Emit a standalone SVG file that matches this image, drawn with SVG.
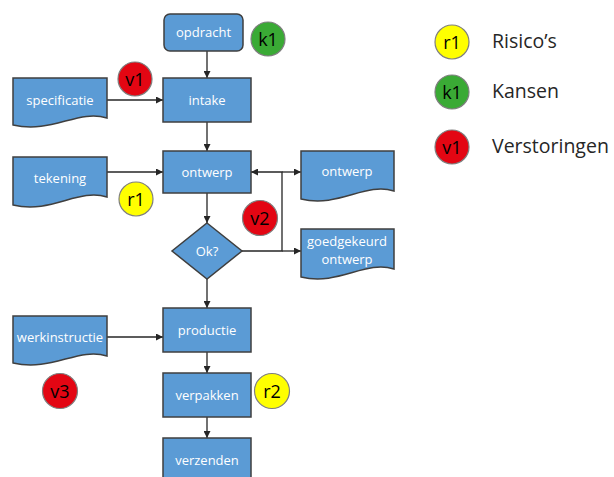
<svg xmlns="http://www.w3.org/2000/svg" width="614" height="477" viewBox="0 0 614 477">
<defs>
<style>
.box{fill:#5b9bd5;stroke:#3f3f3f;stroke-width:1.5}
.lbl{font-family:"Open Sans","Liberation Sans",sans-serif;font-size:13px;fill:#ffffff;text-anchor:middle;dominant-baseline:central}
.con{stroke:#262626;stroke-width:1.3;fill:none}
.cy{fill:#ffff00;stroke:#7f7f7f;stroke-width:1.2}
.cg{fill:#3aaa35;stroke:#7f7f7f;stroke-width:1.2}
.cr{fill:#e30613;stroke:#7f7f7f;stroke-width:1.2}
.ct{font-family:"Open Sans","Liberation Sans",sans-serif;font-size:18px;fill:#000;text-anchor:middle;dominant-baseline:central}
.lt{font-family:"Open Sans","Liberation Sans",sans-serif;font-size:19.5px;fill:#262626;dominant-baseline:central}
</style>
<marker id="ah" viewBox="0 0 10 10" refX="10" refY="5" markerWidth="7" markerHeight="7" orient="auto" markerUnits="userSpaceOnUse">
<path d="M0,0 L10,5 L0,10 Z" fill="#262626"/>
</marker>
</defs>
<rect width="614" height="477" fill="#ffffff"/>

<g id="connectors">
<path class="con" d="M207,51 V78" marker-end="url(#ah)"/>
<path class="con" d="M107,100 H163" marker-end="url(#ah)"/>
<path class="con" d="M207,122 V151" marker-end="url(#ah)"/>
<path class="con" d="M107,172 H163" marker-end="url(#ah)"/>
<path class="con" d="M207,193 V223" marker-end="url(#ah)"/>
<path class="con" d="M242,251 H282 V172 H251" marker-end="url(#ah)"/>
<path class="con" d="M282,172 H301" marker-end="url(#ah)"/>
<path class="con" d="M282,251 H301" marker-end="url(#ah)"/>
<path class="con" d="M207,279 V308" marker-end="url(#ah)"/>
<path class="con" d="M107,337 H163" marker-end="url(#ah)"/>
<path class="con" d="M207,352 V373" marker-end="url(#ah)"/>
<path class="con" d="M207,417 V438" marker-end="url(#ah)"/>
</g>

<g id="opdracht">
<rect class="box" x="164" y="14" width="79" height="37" rx="6"/>
<text class="lbl" x="203.5" y="32">opdracht</text>
</g>
<g id="intake">
<rect class="box" x="163" y="78" width="88" height="44"/>
<text class="lbl" x="207" y="100">intake</text>
</g>
<g id="specificatie">
<path class="box" d="M13,78 H107 V118 C78,109 52,134 13,125 Z"/>
<text class="lbl" x="60" y="100">specificatie</text>
</g>
<g id="ontwerp">
<rect class="box" x="163" y="151" width="88" height="42"/>
<text class="lbl" x="207" y="172">ontwerp</text>
</g>
<g id="tekening">
<path class="box" d="M13,157 H107 V197 C78,188 52,214 13,205 Z"/>
<text class="lbl" x="60" y="178">tekening</text>
</g>
<g id="ontwerp-doc">
<path class="box" d="M301,151 H394 V191 C365,182 339,208 301,199 Z"/>
<text class="lbl" x="347" y="171">ontwerp</text>
</g>
<g id="ok">
<path class="box" d="M207,223 L242,251 L207,279 L172,251 Z"/>
<text class="lbl" x="207" y="251">Ok?</text>
</g>
<g id="goedgekeurd">
<path class="box" d="M301,229 H394 V269 C365,260 339,286 301,277 Z"/>
<text class="lbl" x="347" y="241">goedgekeurd</text>
<text class="lbl" x="347" y="259">ontwerp</text>
</g>
<g id="productie">
<rect class="box" x="163" y="308" width="88" height="44"/>
<text class="lbl" x="207" y="330">productie</text>
</g>
<g id="werkinstructie">
<path class="box" d="M13,316 H107 V356 C78,347 52,372 13,363 Z"/>
<text class="lbl" x="60" y="337">werkinstructie</text>
</g>
<g id="verpakken">
<rect class="box" x="163" y="373" width="88" height="44"/>
<text class="lbl" x="207" y="395">verpakken</text>
</g>
<g id="verzenden">
<rect class="box" x="163" y="438" width="88" height="44"/>
<text class="lbl" x="207" y="460">verzenden</text>
</g>

<g id="k1"><circle class="cg" cx="268" cy="39" r="17"/><text class="ct" x="268" y="39">k1</text></g>
<g id="v1"><circle class="cr" cx="135" cy="79" r="17"/><text class="ct" x="135" y="79">v1</text></g>
<g id="r1"><circle class="cy" cx="136" cy="199" r="17"/><text class="ct" x="136" y="199">r1</text></g>
<g id="v2"><circle class="cr" cx="260" cy="218" r="17.5"/><text class="ct" x="260" y="218">v2</text></g>
<g id="v3"><circle class="cr" cx="60" cy="391" r="17.5"/><text class="ct" x="60" y="391">v3</text></g>
<g id="r2"><circle class="cy" cx="272" cy="391" r="17.5"/><text class="ct" x="272" y="391">r2</text></g>

<g id="legend">
<circle class="cy" cx="452" cy="42" r="17"/><text class="ct" x="452" y="42">r1</text>
<text class="lt" x="492" y="40">Risico’s</text>
<circle class="cg" cx="452" cy="92" r="17"/><text class="ct" x="452" y="92">k1</text>
<text class="lt" x="492" y="90">Kansen</text>
<circle class="cr" cx="452" cy="147" r="17"/><text class="ct" x="452" y="147">v1</text>
<text class="lt" x="492" y="145">Verstoringen</text>
</g>
</svg>
